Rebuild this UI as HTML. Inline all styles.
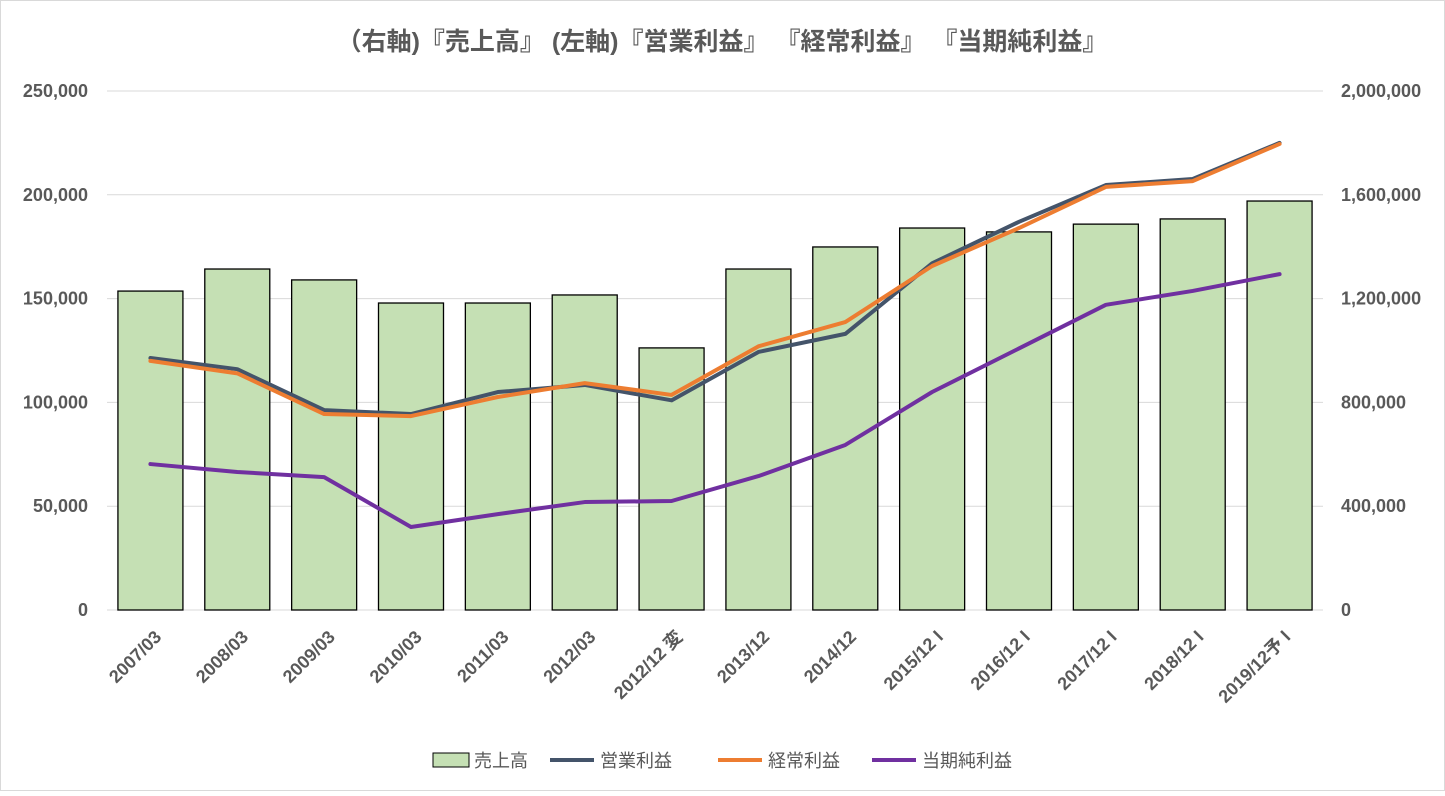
<!DOCTYPE html>
<html><head><meta charset="utf-8"><style>
body{margin:0;background:#fff;font-family:"Liberation Sans","Noto Sans CJK JP",sans-serif;}
svg text{font-family:"Liberation Sans","Noto Sans CJK JP",sans-serif;}
</style></head><body>
<svg id="chart" width="1445" height="791" viewBox="0 0 1445 791">
<rect x="0.5" y="0.5" width="1444" height="790" fill="#fff" stroke="#d9d9d9"/>
<text x="722" y="50" text-anchor="middle" font-size="25" font-weight="bold" fill="#595959">（右軸)『売上高』 (左軸)『営業利益』 『経常利益』 『当期純利益』</text>
<g id="grid"></g><g id="bars"></g><g id="lines"></g><g id="axes"></g>
<g>
<rect x="433" y="753" width="36" height="14" fill="#c5e0b4" stroke="#000"/>
<text x="474" y="767" font-size="18" fill="#595959">売上高</text>
<line x1="550" y1="760" x2="594" y2="760" stroke="#44546a" stroke-width="4"/>
<text x="600" y="767" font-size="18" fill="#595959">営業利益</text>
<line x1="718" y1="760" x2="762" y2="760" stroke="#ed7d31" stroke-width="4"/>
<text x="768" y="767" font-size="18" fill="#595959">経常利益</text>
<line x1="872" y1="760" x2="916" y2="760" stroke="#7030a0" stroke-width="4"/>
<text x="922" y="767" font-size="18" fill="#595959">当期純利益</text>
</g>
</svg>
<script>
const categories=["2007/03","2008/03","2009/03","2010/03","2011/03","2012/03","2012/12 変","2013/12","2014/12","2015/12 I","2016/12 I","2017/12 I","2018/12 I","2019/12予 I"];
const sales=[1229000,1314000,1272000,1183000,1183000,1214000,1010000,1314000,1399000,1472000,1457000,1487000,1507000,1576000];
const operating=[121400,116000,96300,94400,105000,108400,101000,124300,133000,167000,187000,204700,207600,225000];
const ordinary=[120000,114000,94400,93400,102600,109300,103600,127000,138700,165700,184000,203800,206600,224500];
const net=[70300,66500,64000,40000,46200,52000,52500,64500,79500,105000,126000,147000,153700,161800];
const leftTicks=[0,50000,100000,150000,200000,250000];
const rightTicks=[0,400000,800000,1200000,1600000,2000000];
const NS="http://www.w3.org/2000/svg";
const X0=107,X1=1323,Y0=610,Y1=91;
const step=(X1-X0)/categories.length;
function xc(i){return X0+step*(i+0.5);}
function yl(v){return Y0-(v/250000)*(Y0-Y1);}
function yr(v){return Y0-(v/2000000)*(Y0-Y1);}
function mk(tag,attrs,parent){const e=document.createElementNS(NS,tag);for(const k in attrs)e.setAttribute(k,attrs[k]);document.getElementById(parent).appendChild(e);return e;}
leftTicks.forEach((t,i)=>{
  const g=mk('line',{x1:X0,x2:X1,y1:yl(t),y2:yl(t),stroke:'#d9d9d9','stroke-width':1},'grid');
  
  
  const a=mk('text',{x:88,y:yl(t)+6,'text-anchor':'end','font-size':18,'font-weight':'bold',fill:'#595959'},'axes');
  a.textContent=t.toLocaleString('en-US');
  
  
});
rightTicks.forEach(t=>{
  const a=mk('text',{x:1341,y:yr(t)+6,'text-anchor':'start','font-size':18,'font-weight':'bold',fill:'#595959'},'axes');
  a.textContent=t.toLocaleString('en-US');
  
  
});
const bw=65;
sales.forEach((v,i)=>{
  const r=mk('rect',{x:xc(i)-bw/2,y:yr(v),width:bw,height:Y0-yr(v),fill:'#c5e0b4',stroke:'#000','stroke-width':1.3},'bars');
  
  
});
categories.forEach((c,i)=>{
  const x=xc(i)+12,y=638;
  const t=mk('text',{x:x,y:y,'text-anchor':'end','font-size':18,'font-weight':'bold',fill:'#595959',transform:`rotate(-45 ${x} ${y})`},'axes');
  t.textContent=c;
  
  
});
function line(arr,color,name){
  const p=mk('polyline',{points:arr.map((v,i)=>xc(i)+','+yl(v)).join(' '),fill:'none',stroke:color,'stroke-width':4,'stroke-linejoin':'round','stroke-linecap':'round'},'lines');
  
  
}
line(operating,'#44546a','operating-profit-line');
line(ordinary,'#ed7d31','ordinary-profit-line');
line(net,'#7030a0','net-profit-line');
</script>
</body></html>
